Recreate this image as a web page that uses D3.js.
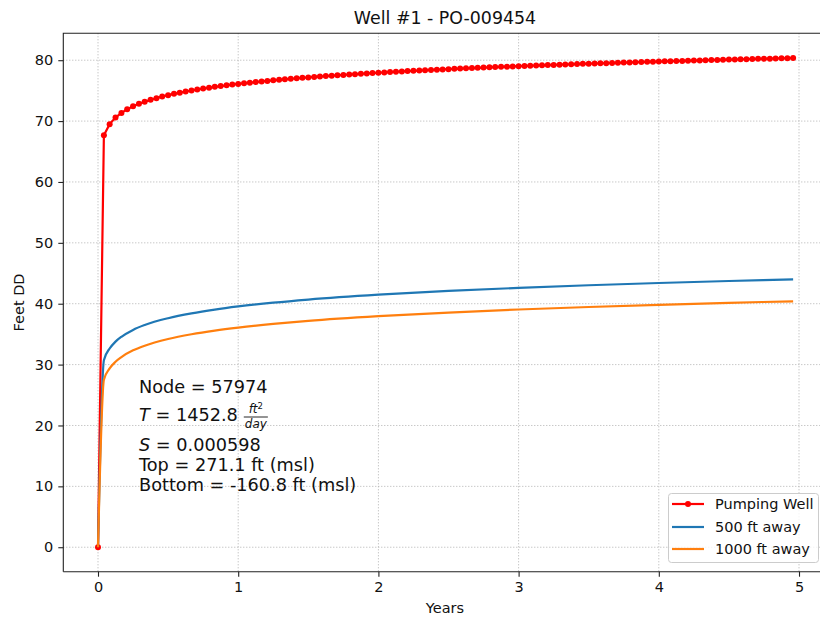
<!DOCTYPE html>
<html><head><meta charset="utf-8">
<script src="https://cdn.jsdelivr.net/npm/d3@7"></script>
<style>body{margin:0;background:#fff} svg text{font-family:"DejaVu Sans",sans-serif;fill:#111}</style>
</head><body><svg id="c" width="820" height="617"></svg>
<script>
const years = [
0,0.042,0.083,0.125,0.167,0.208,0.25,0.292,0.333,0.375,0.417,0.458,0.5,0.542,0.583,0.625,0.667,0.708,0.75,0.792,0.833,0.875,0.917,0.958,
1,1.042,1.083,1.125,1.167,1.208,1.25,1.292,1.333,1.375,1.417,1.458,1.5,1.542,1.583,1.625,1.667,1.708,1.75,1.792,1.833,1.875,1.917,1.958,
2,2.042,2.083,2.125,2.167,2.208,2.25,2.292,2.333,2.375,2.417,2.458,2.5,2.542,2.583,2.625,2.667,2.708,2.75,2.792,2.833,2.875,2.917,2.958,
3,3.042,3.083,3.125,3.167,3.208,3.25,3.292,3.333,3.375,3.417,3.458,3.5,3.542,3.583,3.625,3.667,3.708,3.75,3.792,3.833,3.875,3.917,3.958,
4,4.042,4.083,4.125,4.167,4.208,4.25,4.292,4.333,4.375,4.417,4.458,4.5,4.542,4.583,4.625,4.667,4.708,4.75,4.792,4.833,4.875,4.917,4.958];
const pumpingWell = [
0,67.66,69.50,70.58,71.34,71.93,72.42,72.83,73.18,73.49,73.77,74.03,74.26,74.47,74.67,74.85,75.02,75.18,75.34,75.48,75.62,75.75,75.87,75.99,
76.10,76.21,76.31,76.41,76.51,76.60,76.69,76.78,76.86,76.95,77.03,77.10,77.18,77.25,77.32,77.39,77.46,77.52,77.59,77.65,77.71,77.77,77.83,77.89,
77.94,78.00,78.05,78.10,78.15,78.21,78.25,78.30,78.35,78.40,78.44,78.49,78.53,78.58,78.62,78.66,78.71,78.75,78.79,78.83,78.87,78.91,78.94,78.98,
79.02,79.06,79.09,79.13,79.16,79.20,79.23,79.27,79.30,79.33,79.36,79.40,79.43,79.46,79.49,79.52,79.55,79.58,79.61,79.64,79.67,79.70,79.73,79.76,
79.78,79.81,79.84,79.87,79.89,79.92,79.94,79.97,80.00,80.02,80.05,80.07,80.10,80.12,80.15,80.17,80.19,80.22,80.24,80.26,80.29,80.31,80.33,80.35];
const lineYears = [0,0.042,0.083,0.125,0.167,0.25,0.333,0.5,0.667,0.833,1,1.25,1.5,2,2.5,3,3.5,4,4.5,4.958];
const ft500 = [0,30.72,32.64,33.77,34.57,35.70,36.50,37.62,38.42,39.04,39.55,40.17,40.68,41.48,42.10,42.60,43.03,43.40,43.73,44.00];
const ft1000 = [0,27.50,29.37,30.47,31.24,32.34,33.11,34.21,34.99,35.59,36.08,36.68,37.18,37.95,38.55,39.05,39.46,39.82,40.14,40.40];
const xTicks = [0,1,2,3,4,5];
const yTicks = [0,10,20,30,40,50,60,70,80];
const seriesNames = ["Pumping Well","500 ft away","1000 ft away"];
const colors = ["#ff0000","#1f77b4","#ff7f0e"];

const svg = d3.select('#c');
const L = 63.3, R = 826.7, T = 33.3, B = 571.7;
const x = d3.scaleLinear().domain([-0.2475, 5.1975]).range([L, R]);
const y = d3.scaleLinear().domain([-4.02, 84.42]).range([B, T]);

// grid
const grid = svg.append('g').attr('stroke','#b0b0b0').attr('stroke-width',1).attr('stroke-dasharray','1,2');
xTicks.forEach(t=>grid.append('line').attr('x1',x(t)).attr('x2',x(t)).attr('y1',T).attr('y2',B));
yTicks.forEach(t=>grid.append('line').attr('x1',L).attr('x2',R).attr('y1',y(t)).attr('y2',y(t)));

// lines
const pts = years.map((t,i)=>[t,pumpingWell[i]]);
const line = d3.line().x(d=>x(d[0])).y(d=>y(d[1]));
const lineS = d3.line().x(d=>x(d[0])).y(d=>y(d[1])).curve(d3.curveMonotoneX);
svg.append('path').attr('d',line(pts)).attr('fill','none').attr('stroke',colors[0]).attr('stroke-width',2.2);
svg.append('g').selectAll('circle').data(pts).join('circle')
  .attr('cx',d=>x(d[0])).attr('cy',d=>y(d[1])).attr('r',3).attr('fill',colors[0]);
svg.append('path').attr('d',lineS(lineYears.map((t,i)=>[t,ft500[i]]))).attr('fill','none').attr('stroke',colors[1]).attr('stroke-width',2.2);
svg.append('path').attr('d',lineS(lineYears.map((t,i)=>[t,ft1000[i]]))).attr('fill','none').attr('stroke',colors[2]).attr('stroke-width',2.2);

// axes
const xa = svg.append('g').attr('transform',`translate(0,${B})`)
  .call(d3.axisBottom(x).tickValues(xTicks).tickFormat(d3.format('d')).tickSize(5).tickPadding(5));
const ya = svg.append('g').attr('transform',`translate(${L},0)`)
  .call(d3.axisLeft(y).tickValues(yTicks).tickFormat(d3.format('d')).tickSize(5).tickPadding(5));
[xa,ya].forEach(a=>{a.select('.domain').remove();
  a.selectAll('line').attr('stroke','#222').attr('stroke-width',1.1);
  a.selectAll('text').attr('font-size','14.5px').attr('font-family','DejaVu Sans').attr('fill','#111');});
// spines
const sp = svg.append('g').attr('stroke','#222').attr('stroke-width',1.1).attr('fill','none');
sp.append('path').attr('d',`M${L},${B}V${T}H${R}`);
sp.append('path').attr('d',`M${L},${B}H${R}`);

// title & labels
svg.append('text').attr('x',(L+R)/2).attr('y',24).attr('text-anchor','middle').attr('font-size','17.4px').text('Well #1 - PO-009454');
svg.append('text').attr('x',(L+R)/2).attr('y',613).attr('text-anchor','middle').attr('font-size','14.5px').text('Years');
svg.append('text').attr('transform',`translate(24,${(T+B)/2}) rotate(-90)`).attr('text-anchor','middle').attr('font-size','14.5px').text('Feet DD');

// annotation
const fs = 17.7, ax = 139;
svg.append('text').attr('x',ax).attr('y',393).attr('font-size',fs+'px').text('Node = 57974');
const tl = svg.append('text').attr('x',ax).attr('y',421).attr('font-size',fs+'px');
tl.append('tspan').attr('font-style','italic').text('T');
tl.append('tspan').text(' = 1452.8');
const tw = tl.node().getComputedTextLength();
const fx = ax + tw + 7;
const num = svg.append('text').attr('x',fx).attr('y',413).attr('font-size','12px').attr('font-style','italic');
num.append('tspan').text('ft');
num.append('tspan').attr('font-size','8.5px').attr('dy',-4.5).attr('font-style','normal').text('2');
const den = svg.append('text').attr('x',fx).attr('y',428).attr('font-size','12px').attr('font-style','italic').text('day');
const fw = Math.max(num.node().getComputedTextLength(), den.node().getComputedTextLength());
num.attr('x', fx + (fw - num.node().getComputedTextLength())/2);
svg.append('line').attr('x1',fx-1).attr('x2',fx+fw+1).attr('y1',417).attr('y2',417).attr('stroke','#111').attr('stroke-width',0.9);
const sl = svg.append('text').attr('x',ax).attr('y',451).attr('font-size',fs+'px');
sl.append('tspan').attr('font-style','italic').text('S');
sl.append('tspan').text(' = 0.000598');
svg.append('text').attr('x',ax).attr('y',471).attr('font-size',fs+'px').text('Top = 271.1 ft (msl)');
svg.append('text').attr('x',ax).attr('y',491).attr('font-size',fs+'px').text('Bottom = -160.8 ft (msl)');

// legend
const lg = svg.append('g');
lg.append('rect').attr('x',668.5).attr('y',493.5).attr('width',150).attr('height',69).attr('rx',3)
  .attr('fill','#fff').attr('fill-opacity',0.8).attr('stroke','#cccccc');
const rows = [504,527,549];
seriesNames.forEach((n,i)=>{
  lg.append('line').attr('x1',672).attr('x2',704).attr('y1',rows[i]).attr('y2',rows[i]).attr('stroke',colors[i]).attr('stroke-width',2.2);
  if(i===0) lg.append('circle').attr('cx',688).attr('cy',rows[i]).attr('r',3).attr('fill',colors[0]);
  lg.append('text').attr('x',715).attr('y',rows[i]+5).attr('font-size','14.5px').text(n);
});
</script></body></html>
